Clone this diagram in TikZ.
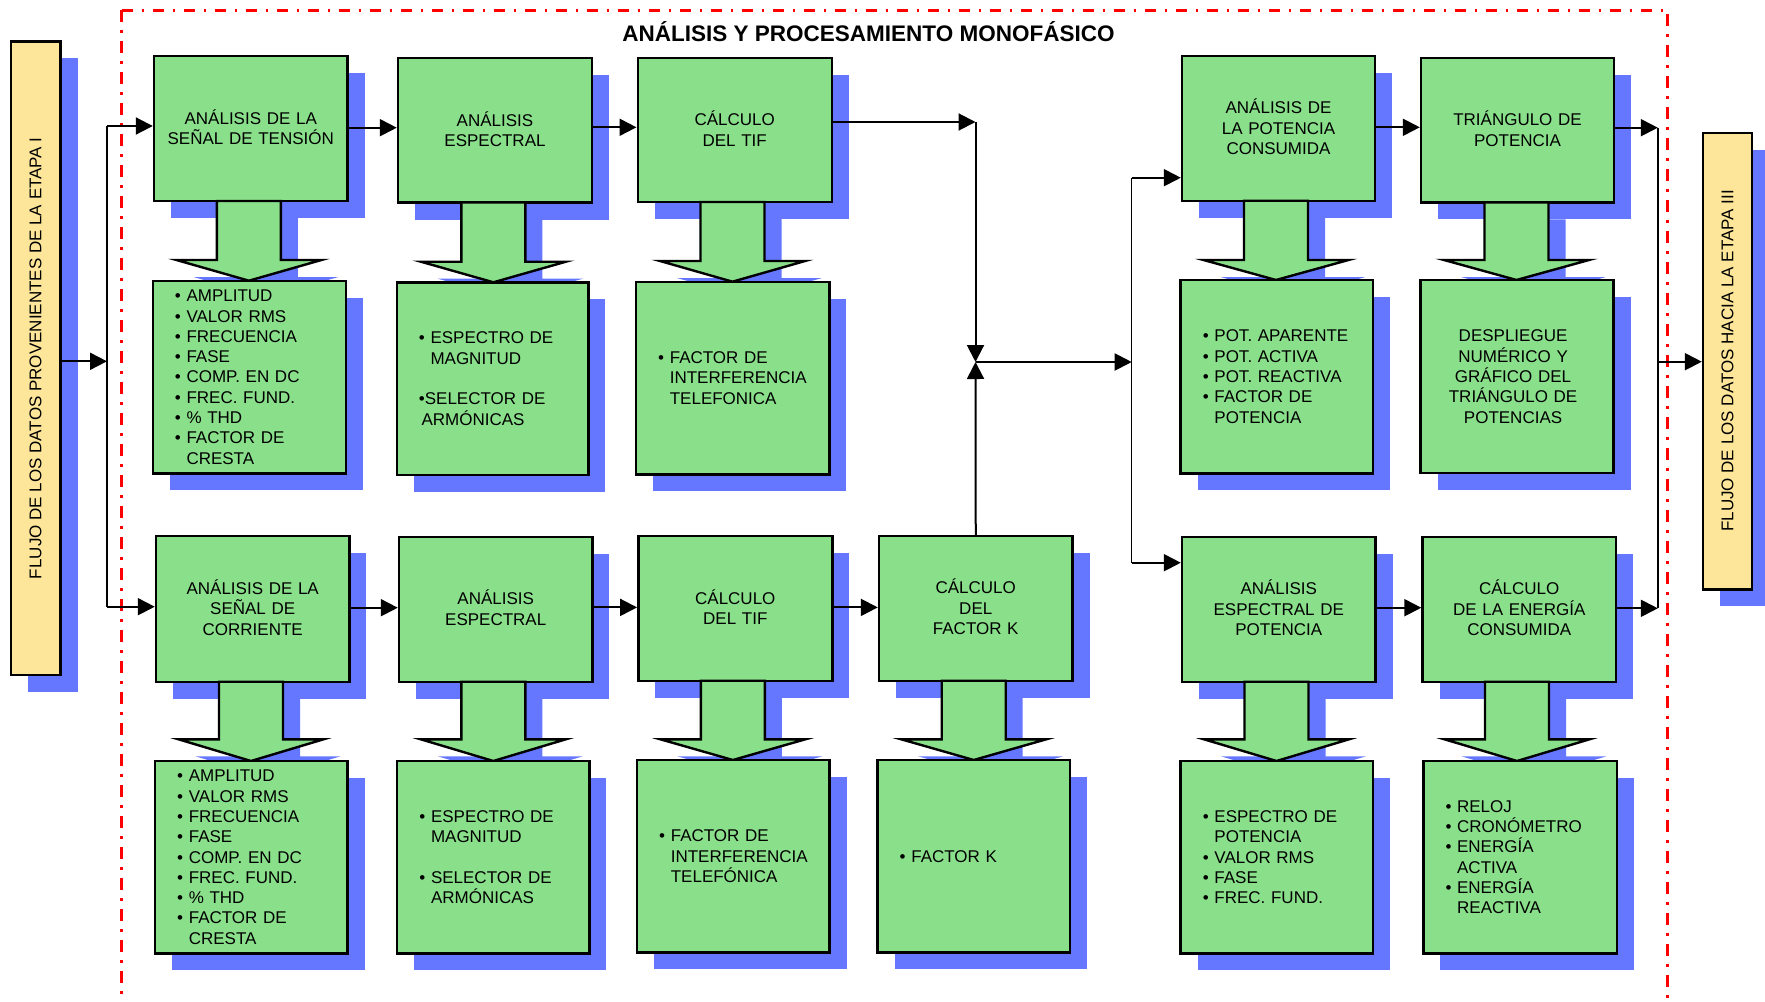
\documentclass[tikz,border=0pt]{standalone}
\usepackage{fontspec}
\usepackage{graphicx}
\setmainfont{Liberation Sans}
\usetikzlibrary{arrows.meta}
\definecolor{gfill}{RGB}{138,224,138}
\definecolor{shad}{RGB}{102,119,255}
\definecolor{yfill}{RGB}{253,230,153}
\definecolor{rline}{RGB}{255,0,0}
\pgfdeclarelayer{bg}
\pgfsetlayers{bg,main}
\newcommand\boxfnt{\fontsize{8.5pt}{10.15pt}\selectfont}
\newcommand\indt{\hphantom{• }}
\newcommand\mkbox[7]{%
  \pgfmathsetmacro\myX{(#2+#4)/2}%
  \pgfmathsetmacro\myY{(#3+#5)/2}%
  \pgfmathsetmacro\myW{(#4-#2)*0.5}%
  \pgfmathsetmacro\myH{(#5-#3)*0.5}%
  \begin{pgfonlayer}{bg}\fill[shad] (#2+17,#3+17) rectangle (#4+17,#5+17);\end{pgfonlayer}%
  \node[#6, minimum width=\myW pt, minimum height=\myH pt] (#1) at (\myX,\myY) {#7};%
}
\newcommand\mkarrow[4]{%
  \begin{pgfonlayer}{bg}\fill[shad, shift={(17,17)}] (#1-32,#2) -- (#1-32,#3) -- (#1-72.5,#3) -- (#1,#4) -- (#1+72.5,#3) -- (#1+32,#3) -- (#1+32,#2) -- cycle;\end{pgfonlayer}%
  \draw[barrow] (#1-32,#2) -- (#1-32,#3) -- (#1-72.5,#3) -- (#1,#4) -- (#1+72.5,#3) -- (#1+32,#3) -- (#1+32,#2) -- cycle;%
}
\tikzset{
  gbox/.style={draw, fill=gfill, line width=1.2pt, inner sep=0pt, text width=90pt, align=center, text height=6pt, font=\boxfnt},
  lbox/.style={draw, fill=gfill, line width=1.2pt, inner sep=0pt},
  ybox/.style={draw, fill=yfill, line width=1.2pt, inner sep=0pt, font=\boxfnt},
  ltxt/.style={inner sep=0pt, text width=85pt, align=left, text height=6pt, font=\boxfnt, anchor=west},
  ctxt/.style={inner sep=0pt, text width=90pt, align=center, text height=6pt, font=\boxfnt},
  barrow/.style={draw, fill=gfill, line width=1.2pt, line join=miter},
  conn/.style={line width=1pt, -{Triangle[length=8.5pt,width=8.5pt]}},
  thinline/.style={line width=0.75pt},
  frame/.style={rline, line width=1.5pt, dash pattern=on 5.85pt off 4.15pt on 1.35pt off 4.15pt}
}
\begin{document}
\begin{tikzpicture}[x=0.5pt,y=-0.5pt]
\useasboundingbox (0,0) rectangle (1765,1001);
% frame and title
\coordinate (FL) at (121.7,10);
\coordinate (FR) at (1667.8,10);
\draw[frame] (FL) -- (FL |- 0,1001);
\draw[frame] (FL) -- (FR) -- (FR |- 0,1001);
\node[font=\bfseries\fontsize{11.25pt}{13pt}\selectfont, anchor=base, inner sep=0pt] (T) at (868.5,41.7) {ANÁLISIS Y PROCESAMIENTO MONOFÁSICO};
% side boxes
\mkbox{Y1}{10.7}{41.3}{60.5}{675}{ybox}{\rotatebox{90}{FLUJO DE LOS DATOS PROVENIENTES DE LA ETAPA I}}
\mkbox{Y2}{1703}{132.7}{1752}{589.3}{ybox}{\rotatebox{90}{FLUJO DE LOS DATOS HACIA LA ETAPA III}}
% title boxes
\mkbox{B1}{154}{56}{347.5}{201}{gbox}{ANÁLISIS DE LA\\SEÑAL DE TENSIÓN}
\mkbox{B2}{398}{58}{592}{202.5}{gbox}{ANÁLISIS\\ESPECTRAL}
\mkbox{B3}{637.7}{58}{831.7}{202}{gbox}{CÁLCULO\\DEL TIF}
\mkbox{B5}{1182}{56}{1375}{200.7}{gbox}{ANÁLISIS DE\\LA POTENCIA\\CONSUMIDA}
\mkbox{B6}{1421}{58}{1614}{202.3}{gbox}{TRIÁNGULO DE\\POTENCIA}
\mkbox{C1}{156}{536}{349.4}{681.7}{gbox}{ANÁLISIS DE LA\\SEÑAL DE\\CORRIENTE}
\mkbox{C2}{399}{536.7}{592.4}{681.7}{gbox}{ANÁLISIS\\ESPECTRAL}
\mkbox{C3}{638.3}{536}{832.3}{680.7}{gbox}{CÁLCULO\\DEL TIF}
\mkbox{C4}{879}{536}{1072.5}{680.7}{gbox}{CÁLCULO\\DEL\\FACTOR K}
\mkbox{C5}{1182}{536.7}{1375.5}{681.7}{gbox}{ANÁLISIS\\ESPECTRAL DE\\POTENCIA}
\mkbox{C6}{1422.5}{536.7}{1616}{681.7}{gbox}{CÁLCULO\\DE LA ENERGÍA\\CONSUMIDA}
% block arrows
\mkarrow{248.9}{201}{260}{280.7}
\mkarrow{493.4}{202.5}{261.7}{282.3}
\mkarrow{732.5}{202}{261}{281.7}
\mkarrow{1276}{200.7}{260}{280}
\mkarrow{1516.5}{202.3}{260}{280}
\mkarrow{251}{681.7}{739.3}{761}
\mkarrow{493.3}{681.7}{739.3}{761}
\mkarrow{732.9}{680.7}{739.3}{760}
\mkarrow{973.7}{680.7}{739.3}{760}
\mkarrow{1276.5}{681.7}{739.3}{761}
\mkarrow{1517}{681.7}{739.3}{761}
% list boxes
\mkbox{L1}{152.7}{280.7}{345.7}{473.3}{lbox}{}
\mkbox{L2}{396.7}{282.3}{588.3}{475}{lbox}{}
\mkbox{L3}{636}{281.7}{829.3}{474.3}{lbox}{}
\mkbox{L5}{1180.6}{280}{1372.7}{473.3}{lbox}{}
\mkbox{L6}{1420.6}{280}{1613.5}{473}{lbox}{}
\mkbox{M1}{155}{761}{347.5}{953.3}{lbox}{}
\mkbox{M2}{397.2}{761}{589.4}{953.3}{lbox}{}
\mkbox{M3}{637}{760}{829.6}{952.3}{lbox}{}
\mkbox{M4}{877.5}{760}{1070}{952.3}{lbox}{}
\mkbox{M5}{1180.6}{761}{1372.7}{953.3}{lbox}{}
\mkbox{M6}{1423.3}{761}{1616.7}{953.3}{lbox}{}
% list texts
\node[ltxt] (L1t) at ([xshift=11.5pt]L1.west) {• AMPLITUD\\• VALOR RMS\\• FRECUENCIA\\• FASE\\• COMP. EN DC\\• FREC. FUND.\\• \% THD\\• FACTOR DE\\\indt CRESTA};
\node[ltxt] (L2t) at ([xshift=11.5pt]L2.west) {• ESPECTRO DE\\\indt MAGNITUD\\[10.15pt]•SELECTOR DE\\\hspace*{1.3pt}ARMÓNICAS};
\node[ltxt] (L3t) at ([xshift=11.5pt]L3.west) {• FACTOR DE\\\indt INTERFERENCIA\\\indt TELEFONICA};
\node[ltxt] (L5t) at ([xshift=11.5pt]L5.west) {• POT. APARENTE\\• POT. ACTIVA\\• POT. REACTIVA\\• FACTOR DE\\\indt POTENCIA};
\node[ctxt] (L6t) at ([xshift=-2pt]L6.center) {DESPLIEGUE\\NUMÉRICO Y\\GRÁFICO DEL\\TRIÁNGULO DE\\POTENCIAS};
\node[ltxt] (M1t) at ([xshift=11.5pt]M1.west) {• AMPLITUD\\• VALOR RMS\\• FRECUENCIA\\• FASE\\• COMP. EN DC\\• FREC. FUND.\\• \% THD\\• FACTOR DE\\\indt CRESTA};
\node[ltxt] (M2t) at ([xshift=11.5pt]M2.west) {• ESPECTRO DE\\\indt MAGNITUD\\[10.15pt]• SELECTOR DE\\\indt ARMÓNICAS};
\node[ltxt] (M3t) at ([xshift=11.5pt]M3.west) {• FACTOR DE\\\indt INTERFERENCIA\\\indt TELEFÓNICA};
\node[ltxt] (M4t) at ([xshift=11.5pt]M4.west) {• FACTOR K};
\node[ltxt] (M5t) at ([xshift=11.5pt]M5.west) {• ESPECTRO DE\\\indt POTENCIA\\• VALOR RMS\\• FASE\\• FREC. FUND.};
\node[ltxt] (M6t) at ([xshift=11.5pt]M6.west) {• RELOJ\\• CRONÓMETRO\\• ENERGÍA\\\indt ACTIVA\\• ENERGÍA\\\indt REACTIVA};
% connector points
\coordinate (inTop) at (107,126);
\coordinate (inMid) at (107,361.3);
\coordinate (inBot) at (107,606.7);
\coordinate (Jt) at (975.5,122);
\coordinate (J) at (975.5,362);
\coordinate (Kt) at (1131.7,177.7);
\coordinate (K) at (1131.7,362);
\coordinate (Kb) at (1131.7,562.7);
\coordinate (outTop) at (1657.8,127.7);
\coordinate (outMid) at (1657.8,361.7);
\coordinate (outBot) at (1657.8,608.3);
% input side
\draw[conn] (inMid -| Y1.east) -- (inMid);
\draw[thinline] (inTop) -- (inBot);
\draw[conn] (inTop) -- (inTop -| B1.west);
\draw[conn] (inBot) -- (inBot -| C1.west);
% row connectors
\draw[conn] (B1.east |- 0,127.7) -- (B2.west |- 0,127.7);
\draw[conn] (B2.east |- 0,127.3) -- (B3.west |- 0,127.3);
\draw[conn] (B5.east |- 0,127.3) -- (B6.west |- 0,127.3);
\draw[conn] (C1.east |- 0,607.7) -- (C2.west |- 0,607.7);
\draw[conn] (C2.east |- 0,607.4) -- (C3.west |- 0,607.4);
\draw[conn] (C3.east |- 0,607.4) -- (C4.west |- 0,607.4);
\draw[conn] (C5.east |- 0,607.7) -- (C6.west |- 0,607.7);
% middle junction
\draw[conn] (Jt -| B3.east) -- (Jt);
\draw[conn] (Jt) -- (J);
\draw[conn] (C4.north) -- (J);
\draw[conn] (J) -- (K);
\draw[thinline] (Kt) -- (Kb);
\draw[conn] (Kt) -- (Kt -| B5.west);
\draw[conn] (Kb) -- (Kb -| C5.west);
% output side
\draw[conn] (outTop -| B6.east) -- (outTop);
\draw[conn] (outBot -| C6.east) -- (outBot);
\draw[thinline] (outTop) -- (outBot);
\draw[conn] (outMid) -- (outMid -| Y2.west);
\end{tikzpicture}
\end{document}
